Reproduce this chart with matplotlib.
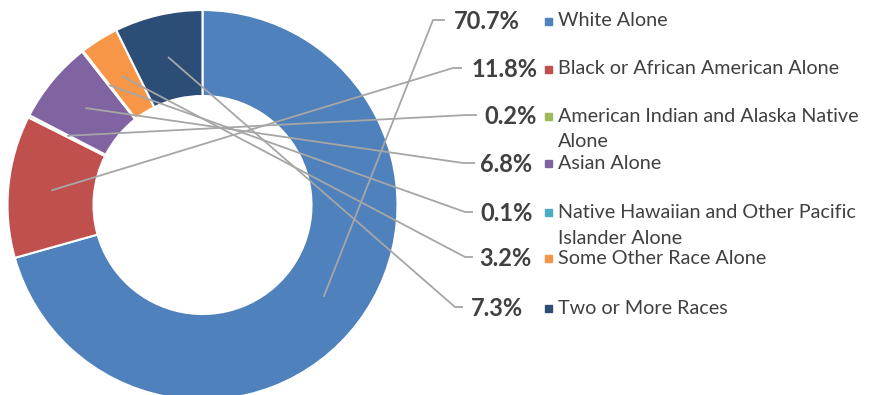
import matplotlib
matplotlib.use("Agg")
import matplotlib.pyplot as plt
import numpy as np

categories = ["White Alone", "Black or African American Alone",
              "American Indian and Alaska Native\nAlone", "Asian Alone",
              "Native Hawaiian and Other Pacific\nIslander Alone",
              "Some Other Race Alone", "Two or More Races"]
values = [70.7, 11.8, 0.2, 6.8, 0.1, 3.2, 7.3]
pct_labels = ["70.7%", "11.8%", "0.2%", "6.8%", "0.1%", "3.2%", "7.3%"]
colors = ["#4F81BD", "#C0504D", "#9BBB59", "#8064A2", "#4BACC6", "#F79646", "#2C4D75"]

W, H = 878, 395
fig = plt.figure(figsize=(W / 100, H / 100), dpi=100)
ax = fig.add_axes([0, 0, 1, 1])

cx, cy = 202.5, H - 205
R_out, R_in = 195, 109
wedges, _ = ax.pie(values, colors=colors, startangle=90, counterclock=False,
                   center=(cx, cy), radius=R_out,
                   wedgeprops=dict(width=R_out - R_in, edgecolor="white", linewidth=1.5))
ax.set_xlim(0, W)
ax.set_ylim(0, H)
ax.set_aspect("equal")
ax.axis("off")

# label layout (pixel coords, y down)
tick_y = [20, 68, 115, 163, 212, 257, 307]
elbow_x = [433, 453, 467, 463, 465, 465, 455]
tick_end = [445, 462, 477, 475, 473, 473, 463]
pct_right = [520, 537, 537, 532, 533, 532, 523]
marker_x = 548.5
text_x = 558
line_gap = 26

gray = "#A6A6A6"
txt = "#404040"
font = ["Lato", "DejaVu Sans"]

r_mid = (R_out + R_in) / 2
for i, w in enumerate(wedges):
    ang = np.deg2rad((w.theta1 + w.theta2) / 2)
    px, py = cx + r_mid * np.cos(ang), cy + r_mid * np.sin(ang)
    ty = H - tick_y[i]
    ax.plot([px, elbow_x[i], tick_end[i]], [py, ty, ty], color=gray, lw=1.3,
            solid_capstyle="butt", zorder=5)
    ax.text(pct_right[i], ty - 1.5, pct_labels[i], ha="right", va="center",
            fontsize=17, fontweight="bold", color=txt, family=font)
    ax.add_patch(plt.Rectangle((marker_x - 3.5, ty - 1 - 3.5), 7, 7,
                               color=colors[i], zorder=6))
    for j, line in enumerate(categories[i].split("\n")):
        ax.text(text_x, ty - 1 - j * line_gap, line, ha="left", va="center",
                fontsize=14.2, color=txt, family=font)

fig.savefig("out.png", dpi=100)
